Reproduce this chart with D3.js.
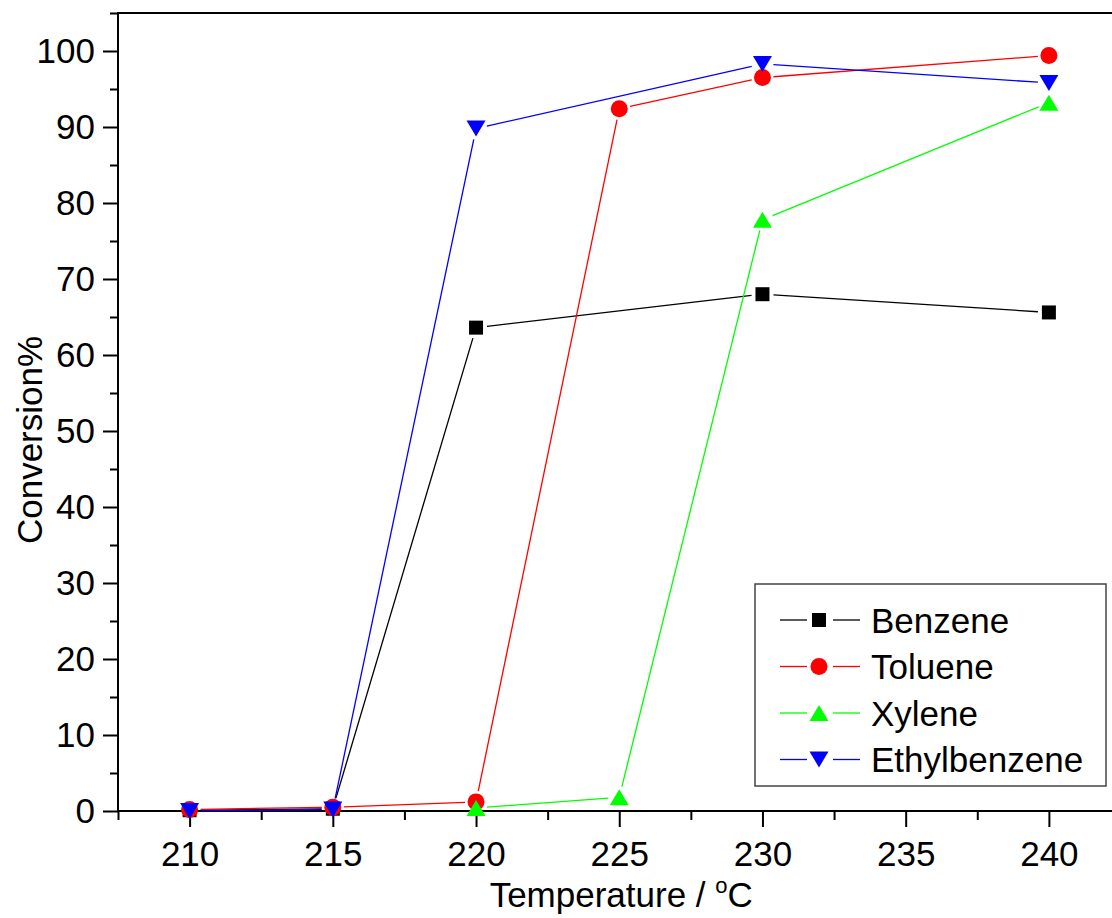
<!DOCTYPE html>
<html>
<head>
<meta charset="utf-8">
<script src="https://cdn.jsdelivr.net/npm/d3@7"></script>
<style>
  body { margin: 0; background: #fff; }
  svg { display: block; font-family: "Liberation Sans", Arial, sans-serif; }
</style>
</head>
<body>
<div id="chart"></div>
<script>
// data
const temps = [210, 215, 220, 225, 230, 240];
const benzene = [[210, 0.1], [215, 0.3], [220, 63.6], [230, 68.0], [240, 65.6]];
const toluene = [[210, 0.2], [215, 0.5], [220, 1.2], [225, 92.4], [230, 96.5], [240, 99.4]];
const xylene = [[220, 0.4], [225, 1.8], [230, 77.8], [240, 93.2]];
const ethylbenzene = [[210, 0.0], [215, 0.2], [220, 89.8], [230, 98.3], [240, 95.8]];
const seriesNames = ["Benzene", "Toluene", "Xylene", "Ethylbenzene"];
const xTicks = [210, 215, 220, 225, 230, 235, 240];
const yTicks = [0, 10, 20, 30, 40, 50, 60, 70, 80, 90, 100];

const width = 1112, height = 918;
const margin = { top: 13, left: 118, bottom: 811, right: 1120.5 };

const series = [
    { name: seriesNames[0], data: benzene, color: "#000000", shape: "square" },
    { name: seriesNames[1], data: toluene, color: "#ff0000", shape: "circle" },
    { name: seriesNames[2], data: xylene, color: "#00ff00", shape: "up" },
    { name: seriesNames[3], data: ethylbenzene, color: "#0000ff", shape: "down" }
];

const svg = d3.select("#chart").append("svg")
    .attr("width", width)
    .attr("height", height);

const x = d3.scaleLinear().domain([207.5, 242.5]).range([margin.left, margin.right]);
const y = d3.scaleLinear().domain([0, 105]).range([margin.bottom, margin.top]);

function markerPath(shape) {
    if (shape == "square") return "M-7,-7H7V7H-7Z";
    if (shape == "circle") return d3.arc()({ innerRadius: 0, outerRadius: 8.5, startAngle: 0, endAngle: 2 * Math.PI });
    if (shape == "up") return "M0,-8L9.5,8L-9.5,8Z";
    return "M-9.5,-8L9.5,-8L0,8Z";
}

// axes
const xMinor = d3.range(207.5, 243, 5);
const yMinor = d3.range(5, 106, 10);

svg.append("g")
    .attr("transform", `translate(0, ${margin.bottom})`)
    .call(d3.axisBottom(x).tickValues(xMinor).tickSize(9).tickFormat(""))
    .call(g => g.select(".domain").remove())
    .call(g => g.selectAll("line").attr("stroke-width", 2));

svg.append("g")
    .attr("transform", `translate(0, ${margin.bottom})`)
    .call(d3.axisBottom(x).tickValues(xTicks).tickSize(16).tickPadding(14).tickFormat(d3.format("d")))
    .call(g => g.select(".domain").remove())
    .call(g => g.selectAll("line").attr("stroke-width", 2))
    .call(g => g.selectAll("text").attr("font-size", 35).attr("fill", "#000").attr("font-family", "Liberation Sans, Arial"));

svg.append("g")
    .attr("transform", `translate(${margin.left}, 0)`)
    .call(d3.axisLeft(y).tickValues(yMinor).tickSize(8).tickFormat(""))
    .call(g => g.select(".domain").remove())
    .call(g => g.selectAll("line").attr("stroke-width", 2));

svg.append("g")
    .attr("transform", `translate(${margin.left}, 0)`)
    .call(d3.axisLeft(y).tickValues(yTicks).tickSize(15).tickPadding(8))
    .call(g => g.select(".domain").remove())
    .call(g => g.selectAll("line").attr("stroke-width", 2))
    .call(g => g.selectAll("text").attr("font-size", 35).attr("fill", "#000").attr("font-family", "Liberation Sans, Arial"));

// frame
svg.append("path")
    .attr("d", `M${margin.right},${margin.top}H${margin.left}V${margin.bottom}H${margin.right}`)
    .attr("fill", "none")
    .attr("stroke", "#000")
    .attr("stroke-width", 2);

// lines with a small gap around markers
const gap = 11;
const plot = svg.append("g");
series.forEach(s => {
    const pts = s.data.map(d => [x(d[0]), y(d[1])]);
    for (let i = 0; i < pts.length - 1; i++) {
        const [x0, y0] = pts[i], [x1, y1] = pts[i + 1];
        const dist = Math.hypot(x1 - x0, y1 - y0);
        if (dist <= 2 * gap) continue;
        const ux = (x1 - x0) / dist, uy = (y1 - y0) / dist;
        plot.append("line")
            .attr("x1", x0 + ux * gap).attr("y1", y0 + uy * gap)
            .attr("x2", x1 - ux * gap).attr("y2", y1 - uy * gap)
            .attr("stroke", s.color)
            .attr("stroke-width", 1.3);
    }
});
series.forEach(s => {
    plot.selectAll(null)
        .data(s.data).enter().append("path")
        .attr("d", markerPath(s.shape))
        .attr("transform", d => `translate(${x(d[0])}, ${y(d[1])})`)
        .attr("fill", s.color);
});

// axis titles
svg.append("text")
    .attr("x", (margin.left + margin.right) / 2 + 2)
    .attr("y", 907)
    .attr("text-anchor", "middle")
    .attr("font-size", 35)
    .text("Temperature / ")
    .call(t => t.append("tspan").attr("font-size", 22).attr("dy", -14).text("o"))
    .call(t => t.append("tspan").attr("dy", 14).text("C"));

svg.append("text")
    .attr("transform", "translate(42, 440) rotate(-90)")
    .attr("text-anchor", "middle")
    .attr("font-size", 35)
    .text("Conversion%");

// legend
const legend = svg.append("g").attr("transform", "translate(755, 584)");
legend.append("rect")
    .attr("width", 351).attr("height", 202)
    .attr("fill", "#fff")
    .attr("stroke", "#444")
    .attr("stroke-width", 1.5);
series.forEach((s, i) => {
    const row = legend.append("g").attr("transform", `translate(0, ${36 + i * 46.5})`);
    row.append("line").attr("x1", 25).attr("x2", 52).attr("stroke", s.color).attr("stroke-width", 1.3);
    row.append("line").attr("x1", 78).attr("x2", 105).attr("stroke", s.color).attr("stroke-width", 1.3);
    row.append("path").attr("d", markerPath(s.shape)).attr("transform", "translate(64, 0)").attr("fill", s.color);
    row.append("text")
        .attr("x", 116)
        .attr("dy", "0.36em")
        .attr("font-size", 35)
        .text(s.name);
});
</script>
</body>
</html>
